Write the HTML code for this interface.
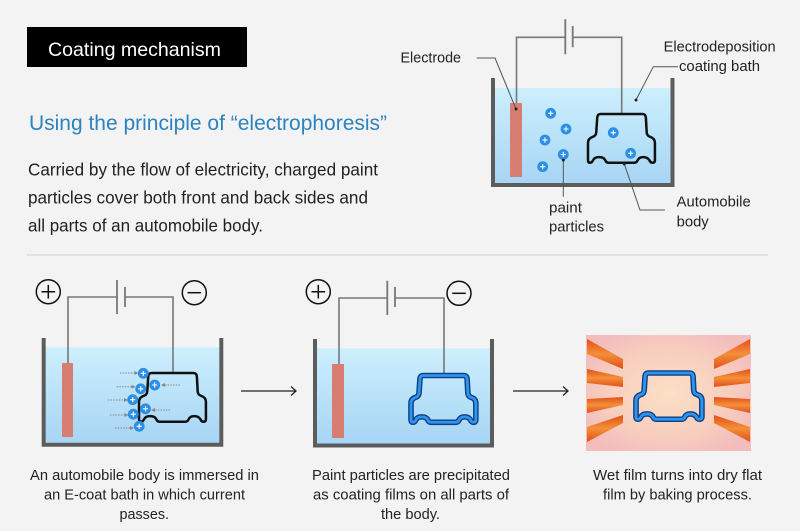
<!DOCTYPE html>
<html><head><meta charset="utf-8"><style>
html,body{margin:0;padding:0;background:#f4f3f3;}
svg{display:block;}
text{font-family:"Liberation Sans",sans-serif;}
</style></head><body>
<svg width="800" height="531" viewBox="0 0 800 531" xmlns="http://www.w3.org/2000/svg">
<defs>
<linearGradient id="water" x1="0" y1="0" x2="0" y2="1">
<stop offset="0" stop-color="#cdeffd"/><stop offset="1" stop-color="#a7d5f5"/>
</linearGradient>
<radialGradient id="heat" cx="0.5" cy="0.5" r="0.6">
<stop offset="0" stop-color="#fbdfc4"/><stop offset="0.6" stop-color="#f8cfbf"/><stop offset="1" stop-color="#f3bcbd"/>
</radialGradient>
<linearGradient id="ray" x1="0" y1="0" x2="0" y2="1">
<stop offset="0" stop-color="#e44e1a"/><stop offset="0.5" stop-color="#f39038"/><stop offset="1" stop-color="#e44e1a"/>
</linearGradient>
<path id="car" d="M 13,0 L 56,0 Q 59.5,0 59.7,4 L 60.5,19 Q 60.8,22.5 64,23.5 Q 69,25 69,30 L 69,47.5 Q 69,50.3 66.5,50.3 Q 64.5,50.3 63.5,48 Q 61.5,44.5 57,44.5 Q 52.5,44.5 51,48 Q 50,50.3 47.5,50.3 L 21.5,50.3 Q 19,50.3 18,48 Q 16.5,44.5 11.5,44.5 Q 6.5,44.5 5,48 Q 4,50.3 2,50.3 Q 0,50.3 0,47.5 L 0,30 Q 0,25 5,23.5 Q 8.2,22.5 8.5,19 L 9.5,4 Q 9.7,0 13,0 Z"/>
<g id="pp"><circle r="5.4" fill="#2b8fe6"/><path d="M-2.6,0H2.6M0,-2.6V2.6" stroke="#fff" stroke-width="1.1"/></g>
<marker id="ah" markerWidth="4" markerHeight="4" refX="3.5" refY="2" orient="auto" markerUnits="userSpaceOnUse"><path d="M0,0L4,2L0,4Z" fill="#888"/></marker>
</defs>

<rect x="27" y="27" width="220" height="40" fill="#000"/>
<text x="48" y="56" font-size="19.5" fill="#fff" textLength="173" lengthAdjust="spacingAndGlyphs">Coating mechanism</text>

<text x="29" y="130" font-size="21.5" fill="#2b83bf" textLength="358" lengthAdjust="spacingAndGlyphs">Using the principle of “electrophoresis”</text>

<g font-size="17.5" fill="#222">
<text x="28" y="175.5" textLength="350" lengthAdjust="spacingAndGlyphs">Carried by the flow of electricity, charged paint</text>
<text x="28" y="203.5" textLength="340" lengthAdjust="spacingAndGlyphs">particles cover both front and back sides and</text>
<text x="28" y="231.5" textLength="235" lengthAdjust="spacingAndGlyphs">all parts of an automobile body.</text>
</g>

<rect x="495" y="88" width="176" height="96" fill="url(#water)"/>
<path d="M493,78 V185 H672.5 V78" fill="none" stroke="#5c5c5c" stroke-width="4"/>
<path d="M516.5,103 V37.3 H565.3 M572.7,37.3 H621.7 V114" fill="none" stroke="#777" stroke-width="1.6"/>
<path d="M565.3,19.3 V54.3 M572.7,26 V47.3" stroke="#777" stroke-width="1.8"/>
<rect x="510" y="103" width="12" height="74" fill="#d77d72"/>
<use href="#car" transform="translate(588,114) scale(0.97,0.97)" fill="none" stroke="#111" stroke-width="2.6"/>
<use href="#pp" x="550.7" y="113.3"/>
<use href="#pp" x="566" y="129"/>
<use href="#pp" x="545" y="140"/>
<use href="#pp" x="563.3" y="154.5"/>
<use href="#pp" x="542.7" y="166.7"/>
<use href="#pp" x="613.3" y="132.7"/>
<use href="#pp" x="630.7" y="153.3"/>
<g stroke="#555" stroke-width="1" fill="none">
<path d="M476.7,58 H495 L516,109"/>
<path d="M678,66.7 H653.3 L636,100"/>
<path d="M563.3,160 V196.7"/>
<path d="M624.3,164 L640,210 H665"/>
</g>
<g fill="#222"><circle cx="516" cy="109" r="1.5"/><circle cx="636" cy="100" r="1.5"/><circle cx="563.3" cy="160" r="1.5"/><circle cx="624.3" cy="164" r="1.5"/></g>
<g font-size="14.5" fill="#222">
<text x="400.5" y="62.3" textLength="60.5" lengthAdjust="spacingAndGlyphs">Electrode</text>
<text x="663.7" y="51.7" textLength="112" lengthAdjust="spacingAndGlyphs">Electrodeposition</text>
<text x="679" y="71" textLength="81" lengthAdjust="spacingAndGlyphs">coating bath</text>
<text x="549" y="212.5" textLength="33" lengthAdjust="spacingAndGlyphs">paint</text>
<text x="549" y="231.7" textLength="55" lengthAdjust="spacingAndGlyphs">particles</text>
<text x="676.7" y="206.7" textLength="74" lengthAdjust="spacingAndGlyphs">Automobile</text>
<text x="676.7" y="226.7" textLength="32" lengthAdjust="spacingAndGlyphs">body</text>
</g>

<line x1="27" y1="255" x2="768" y2="255" stroke="#e2e2e2" stroke-width="2"/>

<rect x="45.7" y="347.3" width="173.6" height="95.4" fill="url(#water)"/>
<path d="M43.7,338 V444.7 H221.3 V338" fill="none" stroke="#5c5c5c" stroke-width="4"/>
<path d="M68,363 V297 H117 M125,297 H173 V373" fill="none" stroke="#777" stroke-width="1.6"/>
<path d="M117,280 V314 M125,287 V307" stroke="#777" stroke-width="1.8"/>
<rect x="62" y="363" width="11" height="74" fill="#d77d72"/>
<use href="#car" transform="translate(139,373) scale(0.97,0.97)" fill="none" stroke="#111" stroke-width="2.6"/>
<g stroke="#888" stroke-width="1" stroke-dasharray="1.5,1.2" fill="none" marker-end="url(#ah)">
<path d="M120,373 H138"/>
<path d="M116.7,386.7 H135"/>
<path d="M108,400 H127.5"/>
<path d="M110,415 H128"/>
<path d="M115,428 H133.5"/>
<path d="M180,385 H161.5"/>
<path d="M170,410 H151.5"/>
</g>
<use href="#pp" x="143.3" y="373.3"/>
<use href="#pp" x="154.7" y="385"/>
<use href="#pp" x="140.7" y="388.8"/>
<use href="#pp" x="132.7" y="399.7"/>
<use href="#pp" x="145.5" y="408.8"/>
<use href="#pp" x="133.3" y="414.2"/>
<use href="#pp" x="139.2" y="426.3"/>
<g fill="none" stroke="#111" stroke-width="1.5">
<circle cx="48.3" cy="291.7" r="12"/>
<path d="M41.5,291.7 H55.1 M48.3,284.9 V298.5"/>
<circle cx="194.3" cy="292.7" r="12"/>
<path d="M187.5,292.7 H201.1"/>
</g>

<path d="M241,391 H296 M291,386.5 L296,391 L291,395.5" fill="none" stroke="#222" stroke-width="1.3"/>

<rect x="317" y="348.3" width="173" height="95.2" fill="url(#water)"/>
<path d="M315,339 V445.5 H492 V339" fill="none" stroke="#5c5c5c" stroke-width="4"/>
<path d="M339,364 V298 H387.3 M395,298 H444 V374" fill="none" stroke="#777" stroke-width="1.6"/>
<path d="M387.3,280.7 V315 M395,287 V307" stroke="#777" stroke-width="1.8"/>
<rect x="332" y="364" width="12" height="74" fill="#d77d72"/>
<use href="#car" transform="translate(411,375.5) scale(0.94,0.93)" fill="none" stroke="#0f3f86" stroke-width="6"/>
<use href="#car" transform="translate(411,375.5) scale(0.94,0.93)" fill="none" stroke="#2f95ec" stroke-width="3"/>
<g fill="none" stroke="#111" stroke-width="1.5">
<circle cx="318.3" cy="291.7" r="12"/>
<path d="M311.5,291.7 H325.1 M318.3,284.9 V298.5"/>
<circle cx="459" cy="293.3" r="12"/>
<path d="M452.2,293.3 H465.8"/>
</g>

<path d="M513,391 H568 M563,386.5 L568,391 L563,395.5" fill="none" stroke="#222" stroke-width="1.3"/>

<rect x="586" y="335" width="165" height="116" fill="url(#heat)"/>
<g fill="url(#ray)">
<polygon points="587,339 587,354 623,369 623,359"/>
<polygon points="587,369 587,383 623,387 623,377"/>
<polygon points="587,399 587,413 623,405 623,397"/>
<polygon points="587,427 587,442 623,423 623,415"/>
<polygon points="750,339 750,354 714,369 714,359"/>
<polygon points="750,369 750,383 714,387 714,377"/>
<polygon points="750,399 750,413 714,405 714,397"/>
<polygon points="750,427 750,442 714,423 714,415"/>
</g>
<use href="#car" transform="translate(636,373) scale(0.955,0.92)" fill="none" stroke="#0f3f86" stroke-width="6"/>
<use href="#car" transform="translate(636,373) scale(0.955,0.92)" fill="none" stroke="#2f95ec" stroke-width="3"/>

<g font-size="15" fill="#222">
<text x="30" y="480" textLength="229" lengthAdjust="spacingAndGlyphs">An automobile body is immersed in</text>
<text x="44" y="499.5" textLength="201" lengthAdjust="spacingAndGlyphs">an E-coat bath in which current</text>
<text x="119.5" y="519" textLength="49.5" lengthAdjust="spacingAndGlyphs">passes.</text>
<text x="312" y="480" textLength="198" lengthAdjust="spacingAndGlyphs">Paint particles are precipitated</text>
<text x="313" y="499.5" textLength="196" lengthAdjust="spacingAndGlyphs">as coating films on all parts of</text>
<text x="381" y="519" textLength="59" lengthAdjust="spacingAndGlyphs">the body.</text>
<text x="593" y="480" textLength="169" lengthAdjust="spacingAndGlyphs">Wet film turns into dry flat</text>
<text x="603" y="499.5" textLength="149" lengthAdjust="spacingAndGlyphs">film by baking process.</text>
</g>
</svg>
</body></html>
